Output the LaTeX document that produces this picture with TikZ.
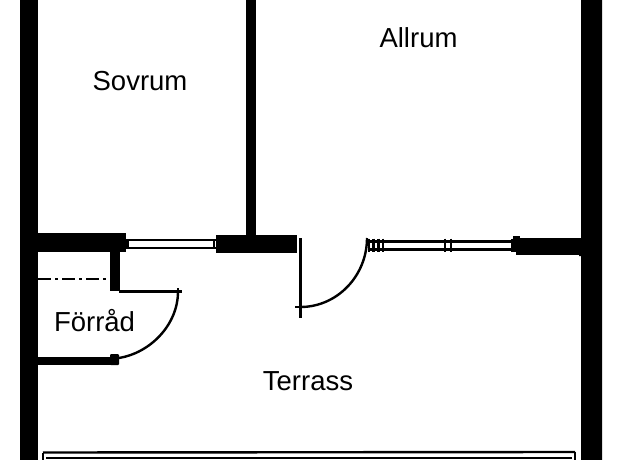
\documentclass[tikz,border=0pt]{standalone}
\usepackage{fontspec}
\setmainfont{Liberation Sans}
\tikzset{
 wall/.style={fill=black,draw=none},
 frameline/.style={draw=black,line width=2.4pt},
 leaf/.style={draw=black,line width=2.4pt},
 room/.style={font=\fontsize{27.5}{30}\selectfont,text=black,inner sep=0pt},
}
\begin{document}
\begin{tikzpicture}[x=1pt,y=-1pt]
 \useasboundingbox (0,0) rectangle (625,460);
 % outer and inner walls
 \fill[wall] (20,0) rectangle (38,460);
 \fill[wall] (581,0) -- (602,0) -- (602,460) -- (581,460) -- (581,256) -- (579,256) -- (579,238) -- (581,238) -- cycle;
 \fill[wall] (246,0) rectangle (255.5,236);
 \fill[wall] (38,233) rectangle (126,252);
 \fill[wall] (110,252) rectangle (119.5,291);
 \fill[wall] (38,357) rectangle (112,364.5);
 \fill[wall,rounded corners=1pt] (110,354) rectangle (119,365);
 \fill[wall] (216,235) rectangle (297,253);
 \fill[wall] (516,238) rectangle (580,255);
 \fill[wall] (513,236) rectangle (520,252);
 % left window
 \draw[frameline] (126,240) -- (216,240);
 \draw[frameline] (126,248) -- (216,248);
 \foreach \xw in {127.5,214} {
  \draw[line width=2.5pt] (\xw,239) -- (\xw,249);
 }
 % right window
 \draw[frameline] (368,241.5) -- (515,241.5);
 \draw[frameline] (368,249.5) -- (515,249.5);
 \foreach \xw in {369,373.5,378.5,383,445,451,512} {
  \draw[line width=2.5pt] (\xw,238.5) -- (\xw,252);
 }
 % store room
 \draw[line width=2.5pt,dash pattern=on 13pt off 4pt on 3pt off 4pt] (38,279) -- (110,279);
 \coordinate (storehinge) at (119,291.5);
 \coordinate (storetip) at (178,291.5);
 \coordinate (storeend) at (119,358);
 \draw[leaf] (storehinge) -- (storetip);
 \draw[leaf] (174,291.5) -- (182,291.5);
 \draw[leaf] (178,288) -- (178,295);
 \draw[leaf] (storetip) .. controls (178,325) and (150,353) .. (storeend);
 % terrace door
 \coordinate (doorhinge) at (300.5,307);
 \coordinate (doorjamb) at (367,238);
 \draw[leaf] (300.5,238) -- (300.5,317.5);
 \draw[leaf] (295,307) -- (305,307);
 \draw[leaf] (doorhinge) .. controls (337,307) and (367,276) .. (doorjamb);
 % terrace edge
 \draw[frameline] (43,452.5) -- (575,452);
 \draw[frameline] (43,452.5) -- (43,460);
 \draw[frameline] (575,452) -- (575,460);
 \draw[line width=2pt] (46,457.5) -- (572,457.5);
 % room names
 \node[room] (sovrum) at (140,81) {Sovrum};
 \node[room] (allrum) at (418.5,38) {Allrum};
 \node[room] (forrad) at (94.5,321) {Förråd};
 \node[room] (terrass) at (308,381) {Terrass};
\end{tikzpicture}
\end{document}
